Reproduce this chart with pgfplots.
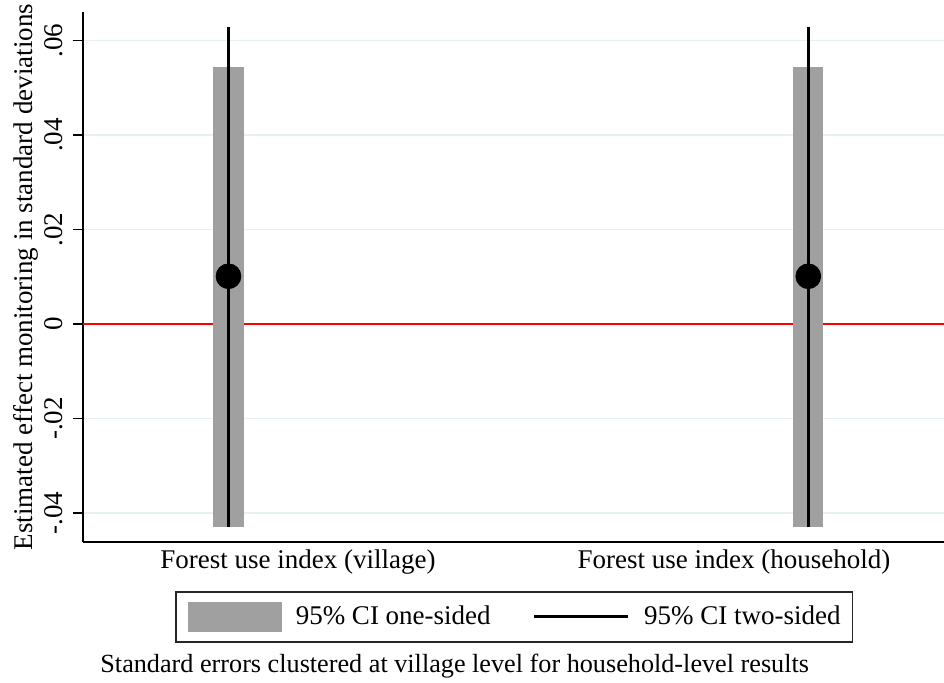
\documentclass[border=0pt]{standalone}
\usepackage{fontspec}
\setmainfont{Liberation Serif}
\usepackage{pgfplots}
\pgfplotsset{compat=1.18}
\definecolor{bargray}{HTML}{A0A0A0}
\definecolor{gridc}{HTML}{E6EFF1}
\begin{document}
\fontsize{13.5}{16}\selectfont
\begin{tikzpicture}
\begin{axis}[
  name=ax,
  at={(0,0)}, anchor=south west,
  scale only axis, width=430.5pt, height=265pt,
  xmin=83, xmax=944, ymin=-0.04614, ymax=0.06603,
  axis x line*=bottom, axis y line*=left,
  axis line style={-, line width=0.75pt, black},
  scaled y ticks=false,
  xtick={298,734},
  xticklabels={Forest use index (village), Forest use index (household)},
  x tick style={draw=none},
  xticklabel style={anchor=base, yshift=-8pt},
  ytick={-0.04,-0.02,0,0.02,0.04,0.06},
  yticklabels={-.04,-.02,0,.02,.04,.06},
  tick align=outside, major tick length=5pt,
  y tick style={black, line width=0.75pt},
  yticklabel style={xshift=-5pt, rotate=90, anchor=base},
  ymajorgrids, major grid style={gridc, line width=0.75pt},
  ylabel={Estimated effect monitoring in standard deviations},
  ylabel style={at={(axis description cs:-0.05807,0.5)}, anchor=base, rotate=0},
  legend columns=2,
  legend style={at={(axis description cs:0.10685,-0.09245)}, anchor=north west,
    draw=black!85, line width=0.75pt, inner xsep=6pt, inner ysep=5pt,
    nodes={inner sep=0pt},
    /tikz/every odd column/.style={column sep=7pt},
    /tikz/every even column/.style={column sep=21pt}},
]
% zero reference line
\addplot[red, line width=1pt, forget plot] coordinates {(83,0) (944,0)};
% one-sided 95% CI bars
\addplot[fill=bargray, draw=none,
  legend image code/.code={\fill[bargray] (0pt,-7.5pt) rectangle (47pt,7.5pt);}]
  coordinates {(213.3,-0.0429) (243.7,-0.0429) (243.7,0.0543) (213.3,0.0543)} --cycle;
\addlegendentry{95\% CI one-sided}
\addplot[fill=bargray, draw=none, forget plot]
  coordinates {(793.3,-0.0429) (823.3,-0.0429) (823.3,0.0543) (793.3,0.0543)} --cycle;
% two-sided 95% CI lines
\addplot[black, line width=1.7pt,
  legend image code/.code={\draw[black, line width=1.7pt] (0pt,0pt) -- (47pt,0pt);}]
  coordinates {(228.5,-0.0429) (228.5,0.0629)};
\addlegendentry{95\% CI two-sided\hspace{8.5pt}}
\addplot[black, line width=1.7pt, forget plot]
  coordinates {(808.3,-0.0429) (808.3,0.0629)};
% point estimates
\addplot[only marks, mark=*, mark size=6.2pt, black, forget plot]
  coordinates {(228.5,0.0101) (808.3,0.0101)};
\end{axis}
\node[anchor=base west, inner sep=0pt, font=\fontsize{13.1}{15}\selectfont]
  at ([xshift=8.5pt,yshift=-65pt]ax.south west)
  {Standard errors clustered at village level for household-level results};
\pgfresetboundingbox
\path[use as bounding box] (-41.5pt,-70pt) rectangle (430.5pt,271pt);
\end{tikzpicture}
\end{document}
